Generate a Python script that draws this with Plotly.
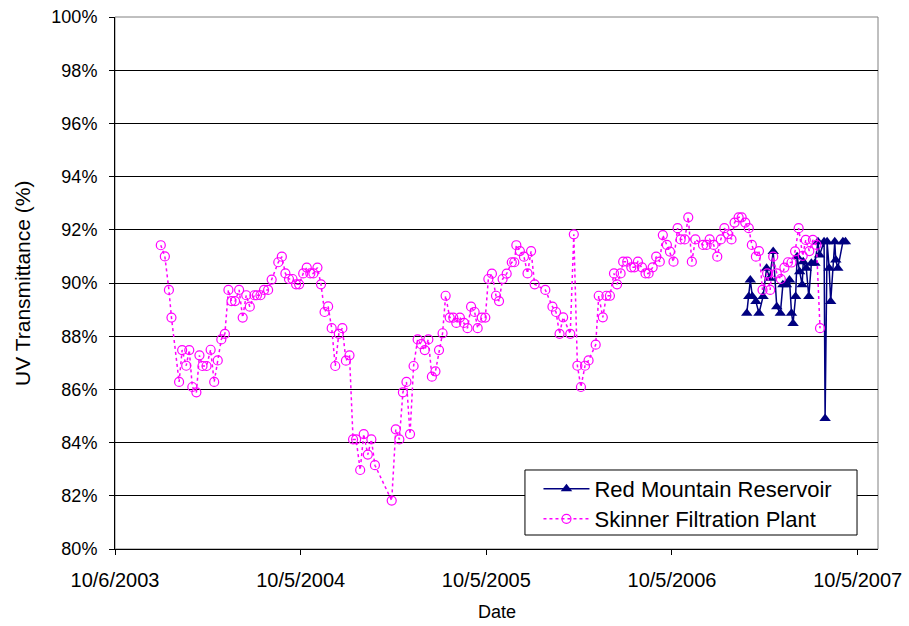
import pandas as pd
import plotly.graph_objects as go

# Excel serial dates (days since 1899-12-30) and UV transmittance (%)
skinner_dates = [
    37990, 37998, 38006, 38011, 38026, 38032, 38040, 38046, 38052, 38060,
    38066, 38072, 38080, 38088, 38095, 38102, 38109, 38116, 38123, 38129,
    38136, 38144, 38151, 38158, 38165, 38174, 38179, 38186, 38193, 38201,
    38208, 38221, 38228, 38235, 38242, 38249, 38256, 38262, 38270, 38277,
    38284, 38290, 38298, 38305, 38312, 38319, 38326, 38333, 38340, 38347,
    38354, 38361, 38368, 38374, 38382, 38389, 38397, 38404, 38411, 38444,
    38452, 38459, 38466, 38473, 38480, 38487, 38495, 38502, 38509, 38516,
    38523, 38530, 38537, 38544, 38550, 38558, 38565, 38571, 38578, 38586,
    38593, 38600, 38607, 38613, 38621, 38628, 38634, 38641, 38649, 38655,
    38662, 38670, 38680, 38685, 38689, 38696, 38704, 38711, 38718, 38725,
    38746, 38760, 38767, 38774, 38781, 38795, 38802, 38809, 38816, 38824,
    38831, 38845, 38851, 38859, 38866, 38873, 38881, 38887, 38894, 38899,
    38907, 38915, 38921, 38928, 38936, 38943, 38949, 38957, 38964, 38971,
    38977, 38985, 38991, 38998, 39006, 39012, 39020, 39027, 39034, 39041,
    39056, 39063, 39069, 39077, 39084, 39091, 39098, 39105, 39112, 39118,
    39126, 39132, 39139, 39146, 39152, 39160, 39166, 39173, 39182, 39188,
    39194, 39201, 39209, 39216, 39223, 39230, 39237, 39244, 39252, 39258,
    39265, 39272, 39279, 39286,
]
skinner_uvt = [
    91.42, 91.00, 89.74, 88.70, 86.28, 87.48, 86.89, 87.48, 86.09, 85.89,
    87.28, 86.88, 86.88, 87.49, 86.28, 87.09, 87.88, 88.09, 89.74, 89.32,
    89.32, 89.74, 88.70, 89.54, 89.11, 89.54, 89.54, 89.54, 89.74, 89.74,
    90.13, 90.78, 90.99, 90.36, 90.15, 90.15, 89.95, 89.95, 90.36, 90.58,
    90.36, 90.36, 90.58, 89.95, 88.91, 89.12, 88.30, 86.88, 88.09, 88.30,
    87.08, 87.28, 84.12, 84.12, 82.97, 84.32, 83.55, 84.12, 83.15, 81.82,
    84.50, 84.12, 85.89, 86.28, 84.32, 86.88, 87.88, 87.70, 87.48, 87.88,
    86.48, 86.68, 87.48, 88.11, 89.52, 88.70, 88.70, 88.50, 88.70, 88.50,
    88.30, 89.11, 88.91, 88.30, 88.70, 88.70, 90.15, 90.35, 89.52, 89.32,
    90.15, 90.35, 90.78, 90.78, 91.42, 91.20, 90.99, 90.36, 91.20, 89.95,
    89.74, 89.11, 88.91, 88.09, 88.71, 88.09, 91.83, 86.89, 86.09, 86.89,
    87.09, 87.68, 89.52, 88.71, 89.52, 89.52, 90.36, 89.95, 90.36, 90.80,
    90.80, 90.59, 90.59, 90.80, 90.59, 90.36, 90.36, 90.59, 90.99, 90.80,
    91.80, 91.43, 91.18, 90.80, 92.06, 91.64, 91.64, 92.47, 90.80, 91.64,
    91.43, 91.43, 91.64, 91.43, 90.99, 91.64, 92.06, 91.84, 91.64, 92.27,
    92.47, 92.47, 92.27, 92.06, 91.43, 90.99, 91.20, 89.74, 90.36, 89.74,
    90.99, 90.36, 90.15, 90.58, 90.78, 90.77, 91.19, 92.06, 91.02, 91.62,
    91.20, 91.62, 91.43, 88.30,
]

red_mountain_dates = [
    39142, 39146, 39149, 39153, 39160, 39166, 39174, 39181, 39187, 39194,
    39201, 39208, 39213, 39220, 39226, 39230, 39233, 39238, 39241, 39246,
    39251, 39253, 39259, 39264, 39269, 39276, 39282, 39285, 39294, 39296,
    39300, 39304, 39307, 39315, 39317, 39321, 39331, 39336,
]
red_mountain_uvt = [
    88.86, 89.49, 90.11, 89.49, 89.30, 88.86, 89.49, 90.55, 90.18, 91.18,
    89.11, 88.86, 89.93, 89.93, 90.11, 88.86, 88.48, 89.49, 90.99, 90.42,
    89.93, 90.80, 90.55, 89.49, 90.74, 90.74, 91.55, 91.05, 91.55, 84.91,
    91.55, 90.55, 89.30, 91.55, 90.86, 90.55, 91.55, 91.55,
]

x_tick_dates = ["2003-10-06", "2004-10-05", "2005-10-05", "2006-10-05", "2007-10-05"]
x_tick_labels = ["10/6/2003", "10/5/2004", "10/5/2005", "10/5/2006", "10/5/2007"]
y_tick_values = [80, 82, 84, 86, 88, 90, 92, 94, 96, 98, 100]
y_tick_labels = ["80%", "82%", "84%", "86%", "88%", "90%", "92%", "94%", "96%", "98%", "100%"]


def to_dates(serials):
    return pd.to_datetime(pd.Series(serials), unit="D", origin="1899-12-30")


FONT = "Liberation Sans, Arial, sans-serif"

fig = go.Figure()
fig.add_trace(go.Scatter(
    x=to_dates(red_mountain_dates), y=red_mountain_uvt,
    mode="lines+markers", name="Red Mountain Reservoir",
    line=dict(color="#000080", width=1.5),
    marker=dict(symbol="triangle-up", size=10, color="#000080"),
    legend="legend",
))
fig.add_trace(go.Scatter(
    x=to_dates(skinner_dates), y=skinner_uvt,
    mode="lines+markers", name="Skinner Filtration Plant",
    line=dict(color="#FF00FF", width=1.5, dash="dot"),
    marker=dict(symbol="circle-open", size=9, color="#FF00FF", line=dict(width=1.2)),
    legend="legend2",
))

legend_style = dict(
    xanchor="left", yanchor="middle",
    borderwidth=0, bgcolor="rgba(0,0,0,0)",
    font=dict(family=FONT, size=22, color="black"),
    itemwidth=46,
)

fig.update_layout(
    width=909, height=626,
    margin=dict(l=115, r=31, t=17, b=77, autoexpand=False),
    paper_bgcolor="white", plot_bgcolor="white",
    font=dict(family=FONT, size=18, color="black"),
    showlegend=True,
    legend=dict(x=0.555, y=0.1128, **legend_style),
    legend2=dict(x=0.555, y=0.0564, **legend_style),
    xaxis=dict(
        type="date", automargin=False,
        range=["2003-10-06", "2007-11-14"],
        tickvals=x_tick_dates, ticktext=x_tick_labels,
        ticks="outside", ticklen=5, tickcolor="black",
        ticklabelstandoff=8,
        showline=True, linecolor="black", linewidth=1,
        showgrid=False, zeroline=False,
        tickfont=dict(family=FONT, size=20),
    ),
    yaxis=dict(
        range=[80, 100], automargin=False,
        tickvals=y_tick_values, ticktext=y_tick_labels,
        ticks="outside", ticklen=5, tickcolor="black",
        ticklabelstandoff=8,
        showline=True, linecolor="black", linewidth=1,
        showgrid=True, gridcolor="black", gridwidth=1,
        zeroline=False,
        tickfont=dict(family=FONT, size=18),
    ),
    shapes=[
        dict(type="rect", xref="paper", yref="paper", x0=0, y0=0, x1=1, y1=1,
             line=dict(color="#808080", width=1), layer="below"),
        # legend box
        dict(type="rect", xref="paper", yref="paper",
             x0=0.5373, x1=0.9725, y0=0.0263, y1=0.1485,
             line=dict(color="black", width=1), fillcolor="white", layer="above"),
    ],
    annotations=[
        dict(text="Date", xref="paper", yref="paper", x=0.5, y=-0.118,
             xanchor="center", yanchor="middle", showarrow=False,
             font=dict(family=FONT, size=18)),
        dict(text="UV Transmittance (%)", xref="paper", yref="paper", x=-0.122, y=0.5,
             xanchor="center", yanchor="middle", showarrow=False, textangle=-90,
             font=dict(family=FONT, size=21)),
    ],
)

fig.write_html("out.html", config={"displayModeBar": False},
               post_script="document.body.style.margin='0';")
